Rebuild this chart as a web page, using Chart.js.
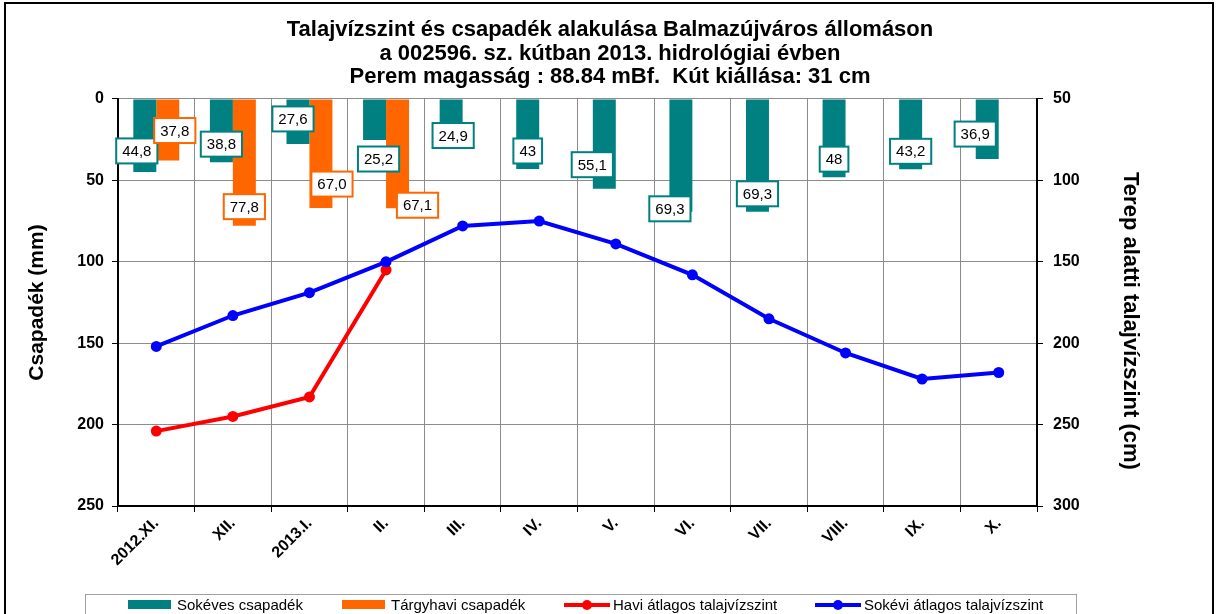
<!DOCTYPE html>
<html>
<head>
<meta charset="utf-8">
<script src="https://cdn.jsdelivr.net/npm/chart.js@4.4.1/dist/chart.umd.min.js"></script>
<style>
body { margin: 0; background: #fff; }
</style>
</head>
<body>
<canvas id="myChart" width="1220" height="614"></canvas>
<script>
var months = ['2012.XI.', 'XII.', '2013.I.', 'II.', 'III.', 'IV.', 'V.', 'VI.', 'VII.', 'VIII.', 'IX.', 'X.'];
var sokevesCsapadek = [44.8, 38.8, 27.6, 25.2, 24.9, 43, 55.1, 69.3, 69.3, 48, 43.2, 36.9];
var targyhaviCsapadek = [37.8, 77.8, 67.0, 67.1, null, null, null, null, null, null, null, null];
var haviTalajviz = [254, 245, 233, 155, null, null, null, null, null, null, null, null];
var sokeviTalajviz = [202, 183, 169, 150, 128, 125, 139, 158, 185, 206, 222, 218];
var titleLines = [
    'Talajvízszint és csapadék alakulása Balmazújváros állomáson',
    'a 002596. sz. kútban 2013. hidrológiai évben',
    'Perem magasság : 88.84 mBf.  Kút kiállása: 31 cm'
];
var rightAxisTitle = 'Terep alatti talajvízszint (cm)';

// label box nudges (px), like hand placed excel labels
var tealLabelShift = [[-8,-21],[0,-18],[-5,-25],[4,19],[2,-4],[0,-18],[-12,-24],[-11,-3],[0,-18],[0,-18],[0,-18],[-12,-25]];
var orangeLabelShift = [[7,-30],[0,-19],[11,-24],[20,-3]];

var FONT = '"Liberation Sans", Arial, sans-serif';
Chart.defaults.font.family = FONT;
Chart.defaults.color = '#000';

function fmtComma(v, fixed){
    var s = fixed ? v.toFixed(1) : String(v);
    return s.replace('.', ',');
}

var decorPlugin = {
    id: 'decor',
    afterDatasetsDraw: function(chart){
        var ctx = chart.ctx;
        ctx.save();
        ctx.font = '15px ' + FONT;
        ctx.textAlign = 'center';
        ctx.textBaseline = 'middle';
        var sets = [[2, tealLabelShift, '#008080', false], [3, orangeLabelShift, '#FF6600', true]];
        sets.forEach(function(s){
            var meta = chart.getDatasetMeta(s[0]);
            var data = chart.data.datasets[s[0]].data;
            meta.data.forEach(function(bar, i){
                if (data[i] == null) return;
                var txt = fmtComma(data[i], s[3]);
                var sh = s[1][i] || [0, -18];
                var cx = bar.x + sh[0], cy = bar.y + sh[1];
                var w = ctx.measureText(txt).width + 12, h = 25;
                ctx.fillStyle = '#fff';
                ctx.fillRect(cx - w/2, cy - h/2, w, h);
                ctx.strokeStyle = s[2];
                ctx.lineWidth = 2;
                ctx.strokeRect(cx - w/2, cy - h/2, w, h);
                ctx.fillStyle = '#000';
                ctx.fillText(txt, cx, cy + 1);
            });
        });
        ctx.restore();
    },
    afterDraw: function(chart){
        var ctx = chart.ctx;
        ctx.save();
        // outer frame
        ctx.strokeStyle = '#000';
        ctx.lineWidth = 2;
        ctx.strokeRect(5, 3, 1208, 700);

        // right axis title (sits lower than the axis middle in the original)
        ctx.save();
        ctx.translate(1130, 321);
        ctx.rotate(Math.PI / 2);
        ctx.font = 'bold 22px ' + FONT;
        ctx.fillStyle = '#000';
        ctx.textAlign = 'center';
        ctx.textBaseline = 'middle';
        ctx.fillText(rightAxisTitle, 0, 0);
        ctx.restore();

        // legend
        ctx.strokeStyle = '#a0a0a0';
        ctx.lineWidth = 1;
        ctx.strokeRect(85.5, 594.5, 991, 40);
        var ds = chart.data.datasets;
        var items = [
            {ds: ds[2], x: 128, kind: 'bar'},
            {ds: ds[3], x: 342, kind: 'bar'},
            {ds: ds[1], x: 564, kind: 'line'},
            {ds: ds[0], x: 815, kind: 'line'}
        ];
        var y = 605;
        ctx.font = '15px ' + FONT;
        ctx.textBaseline = 'middle';
        ctx.textAlign = 'left';
        items.forEach(function(it){
            if (it.kind == 'bar'){
                ctx.fillStyle = it.ds.backgroundColor;
                ctx.fillRect(it.x, y - 5, 43, 9);
            } else {
                ctx.strokeStyle = it.ds.borderColor;
                ctx.lineWidth = 4;
                ctx.beginPath();
                ctx.moveTo(it.x, y);
                ctx.lineTo(it.x + 46, y);
                ctx.stroke();
                ctx.fillStyle = it.ds.borderColor;
                ctx.beginPath();
                ctx.arc(it.x + 23, y, 5, 0, Math.PI * 2);
                ctx.fill();
            }
            ctx.fillStyle = '#000';
            ctx.fillText(it.ds.label, it.x + 49, y + 1);
        });
        ctx.restore();
    }
};

var myChart = new Chart(document.getElementById('myChart'), {
    type: 'bar',
    data: {
        labels: months,
        datasets: [
            {
                type: 'line',
                label: 'Sokévi átlagos talajvízszint',
                data: sokeviTalajviz,
                yAxisID: 'y2',
                borderColor: '#0000FF',
                backgroundColor: '#0000FF',
                borderWidth: 4,
                pointRadius: 5.5,
                pointBackgroundColor: '#0000FF',
                pointBorderWidth: 0,
                order: 0
            },
            {
                type: 'line',
                label: 'Havi átlagos talajvízszint',
                data: haviTalajviz,
                yAxisID: 'y2',
                borderColor: '#FF0000',
                backgroundColor: '#FF0000',
                borderWidth: 4,
                pointRadius: 5.5,
                pointBackgroundColor: '#FF0000',
                pointBorderWidth: 0,
                order: 1
            },
            {
                label: 'Sokéves csapadék',
                data: sokevesCsapadek,
                yAxisID: 'y',
                backgroundColor: '#008080',
                barPercentage: 1,
                categoryPercentage: 0.6,
                order: 2
            },
            {
                label: 'Tárgyhavi csapadék',
                data: targyhaviCsapadek,
                yAxisID: 'y',
                backgroundColor: '#FF6600',
                barPercentage: 1,
                categoryPercentage: 0.6,
                order: 3
            }
        ]
    },
    options: {
        responsive: false,
        animation: false,
        events: [],
        layout: { padding: 0 },
        plugins: {
            legend: { display: false },
            tooltip: { enabled: false },
            title: {
                display: true,
                text: titleLines,
                color: '#000',
                font: { size: 22, weight: 'bold', lineHeight: 1.068 },
                padding: { top: 18.25, bottom: 10.25 }
            }
        },
        scales: {
            x: {
                offset: true,
                grid: { offset: true, color: '#8c8c8c', tickColor: '#000', tickLength: 6 },
                border: { color: '#000', width: 2 },
                ticks: { color: '#000', font: { size: 16, weight: 'bold' }, maxRotation: 45, minRotation: 45, padding: 2 },
                afterFit: function(s){ s.height = 108; }
            },
            y: {
                position: 'left',
                reverse: true,
                min: 0,
                max: 250,
                ticks: { stepSize: 50, color: '#000', font: { size: 16, weight: 'bold' }, padding: 8 },
                grid: { color: '#8c8c8c', tickColor: '#000', tickLength: 6 },
                border: { color: '#000', width: 2 },
                title: {
                    display: true,
                    text: 'Csapadék (mm)',
                    color: '#000',
                    font: { size: 21, weight: 'bold' },
                    padding: { top: 25, bottom: 0 }
                },
                afterFit: function(s){ s.width = 118; }
            },
            y2: {
                position: 'right',
                reverse: true,
                min: 50,
                max: 300,
                ticks: { stepSize: 50, color: '#000', font: { size: 16, weight: 'bold' }, padding: 10 },
                grid: { drawOnChartArea: false, tickColor: '#000', tickLength: 6 },
                border: { color: '#000', width: 2 },
                afterFit: function(s){ s.width = 183; }
            }
        }
    },
    plugins: [decorPlugin]
});
</script>
</body>
</html>
